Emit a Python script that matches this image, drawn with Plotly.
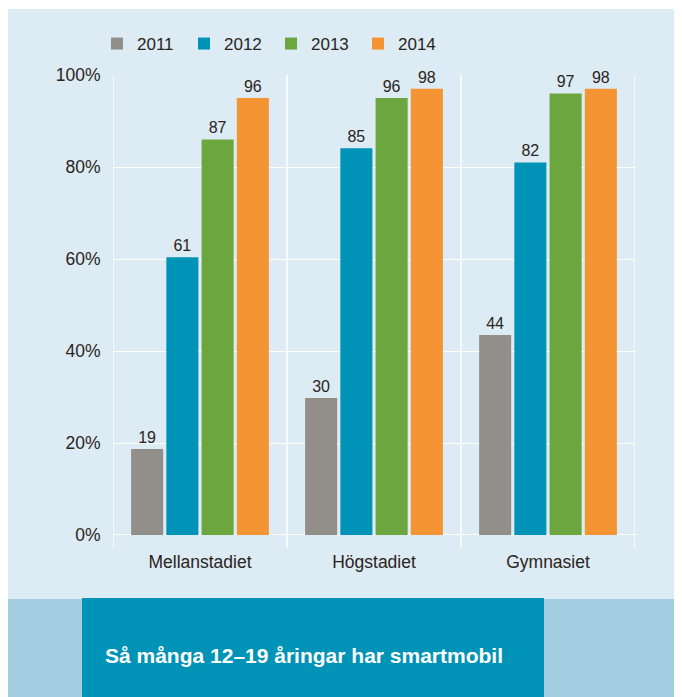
import plotly.graph_objects as go

# data
stadier = ["Mellanstadiet", "Högstadiet", "Gymnasiet"]
years = ["2011", "2012", "2013", "2014"]
# bar heights (as drawn) and the printed labels
h_2011 = [18.7, 29.8, 43.5]
h_2012 = [60.4, 84.1, 81.0]
h_2013 = [86.0, 95.0, 96.0]
h_2014 = [95.0, 97.0, 97.0]
lab_2011 = ["19", "30", "44"]
lab_2012 = ["61", "85", "82"]
lab_2013 = ["87", "96", "97"]
lab_2014 = ["96", "98", "98"]
y_ticks = [0, 20, 40, 60, 80, 100]
y_ticktext = ["0%", "20%", "40%", "60%", "80%", "100%"]
title = "Så många 12\u201319 åringar har smartmobil"

heights = [h_2011, h_2012, h_2013, h_2014]
labels = [lab_2011, lab_2012, lab_2013, lab_2014]
colors = ["#928f8b", "#0093b8", "#6ca63e", "#f49433"]

# page has an 8px body margin, so the figure is drawn a bit smaller
OX, OY = 8, 8
W, H = 682 - OX, 697 - OY
ML, MR, MT, MB = 113 - OX, 682 - 635, 75 - OY, 697 - 535
PW, PH = W - ML - MR, H - MT - MB


def px(X):
    return (X - OX - ML) / PW


def py(Y):
    return (H - MB - (Y - OY)) / PH


txt = "#2a2520"
font = "Liberation Sans, Arial, sans-serif"

fig = go.Figure()
for yr, hv, lb, c in zip(years, heights, labels, colors):
    fig.add_trace(go.Bar(
        x=list(range(len(stadier))), y=hv, name=yr,
        marker=dict(color=c, line=dict(width=0)),
        text=lb, textposition="outside", cliponaxis=False,
        textfont=dict(size=16, color=txt, family=font),
    ))

shapes = [
    # light panel
    dict(type="rect", xref="paper", yref="paper", x0=px(5), x1=px(700),
         y0=py(599), y1=py(9), fillcolor="#dcebf4", line=dict(width=0), layer="below"),
    # bottom strip
    dict(type="rect", xref="paper", yref="paper", x0=px(5), x1=px(700),
         y0=py(710), y1=py(599), fillcolor="#a2cde1", line=dict(width=0), layer="below"),
    dict(type="rect", xref="paper", yref="paper", x0=px(82), x1=px(544),
         y0=py(710), y1=py(598), fillcolor="#0093b8", line=dict(width=0), layer="below"),
]
# white vertical separators between groups
for i in range(len(stadier) + 1):
    shapes.append(dict(type="line", xref="x", yref="paper", x0=i - 0.5, x1=i - 0.5,
                       y0=py(548), y1=1, line=dict(color="white", width=1.5), layer="below"))
# zero line slightly longer
shapes.append(dict(type="line", xref="paper", yref="y", x0=0, x1=px(638), y0=0, y1=0,
                   line=dict(color="white", width=2), layer="below"))

fig.update_layout(
    width=W, height=H,
    margin=dict(l=ML, r=MR, t=MT, b=MB),
    paper_bgcolor="white", plot_bgcolor="rgba(0,0,0,0)",
    barmode="group", bargap=0.19, bargroupgap=0.09,
    font=dict(family=font, size=17, color=txt),
    shapes=shapes,
    showlegend=True,
    legend=dict(orientation="h", x=px(97), xanchor="left", y=py(44), yanchor="middle",
                bgcolor="rgba(0,0,0,0)", font=dict(size=17, color=txt),
                entrywidth=42, entrywidthmode="pixels", itemwidth=30,
                traceorder="normal"),
    xaxis=dict(range=[-0.5, len(stadier) - 0.5], tickvals=list(range(len(stadier))),
               ticktext=stadier, showgrid=False, zeroline=False, showline=False,
               ticks="outside", ticklen=11, tickcolor="rgba(0,0,0,0)",
               tickfont=dict(size=17.5, color=txt)),
    yaxis=dict(range=[0, 100], tickvals=y_ticks, ticktext=y_ticktext,
               showgrid=True, gridcolor="white", gridwidth=1.2, zeroline=False,
               showline=False, ticks="outside", ticklen=8, tickcolor="rgba(0,0,0,0)",
               tickfont=dict(size=17.5, color=txt)),
    annotations=[dict(text="<b>" + title + "</b>", xref="paper", yref="paper",
                      x=px(103), y=py(655), xanchor="left", yanchor="middle",
                      showarrow=False, font=dict(size=21, color="white", family=font))],
)

fig.write_html("out.html")
